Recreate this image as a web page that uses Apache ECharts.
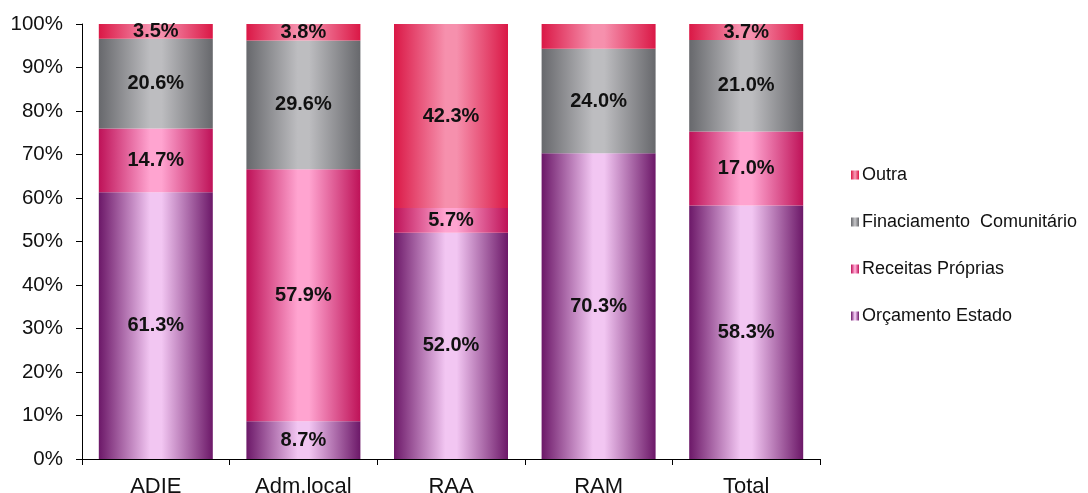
<!DOCTYPE html>
<html>
<head>
<meta charset="utf-8">
<script src="https://cdn.jsdelivr.net/npm/echarts@6/dist/echarts.min.js"></script>
<style>
  html, body { margin: 0; padding: 0; background: #ffffff; }
  #chart { width: 1088px; height: 493px; }
</style>
</head>
<body>
<div id="chart"></div>
<script>
// Funding sources by entity, share of total (%)
const categories = ['ADIE', 'Adm.local', 'RAA', 'RAM', 'Total'];
const orcamentoEstado = [61.3, 8.7, 52.0, 70.3, 58.3];
const receitasProprias = [14.7, 57.9, 5.7, 0, 17.0];
const financiamentoComunitario = [20.6, 29.6, 0, 24.0, 21.0];
const outra = [3.5, 3.8, 42.3, 5.7, 3.7];
// Segments whose value label is not printed
const hiddenLabels = { 'Outra': ['RAM'] };
const yTicks = [0, 10, 20, 30, 40, 50, 60, 70, 80, 90, 100];

const font = '"Liberation Sans", Arial, sans-serif';

function barGradient(edge, light) {
  return new echarts.graphic.LinearGradient(0, 0, 1, 0, [
    { offset: 0, color: edge },
    { offset: 0.45, color: light },
    { offset: 0.55, color: light },
    { offset: 1, color: edge }
  ]);
}

function makeSeries(name, values, edge, light) {
  const hidden = hiddenLabels[name] || [];
  return {
    name: name,
    type: 'bar',
    stack: 'share',
    barWidth: 114,
    data: values.map((v, i) => hidden.includes(categories[i])
      ? { value: v, label: { show: false } }
      : v),
    itemStyle: { color: barGradient(edge, light) },
    label: {
      show: true,
      position: 'inside',
      color: '#111111',
      fontFamily: font,
      fontSize: 20,
      fontWeight: 'bold',
      formatter: p => p.value > 0 ? p.value.toFixed(1) + '%' : ''
    },
    emphasis: { disabled: true }
  };
}

const chart = echarts.init(document.getElementById('chart'), null, { renderer: 'canvas' });
chart.setOption({
  animation: false,
  backgroundColor: '#ffffff',
  grid: { left: 82, right: 268, top: 24, bottom: 34, containLabel: false, outerBoundsMode: 'none' },
  legend: {
    orient: 'vertical',
    left: 846,
    top: 161,
    itemWidth: 8,
    itemHeight: 9,
    itemGap: 29,
    icon: 'rect',
    data: ['Outra', 'Finaciamento  Comunitário', 'Receitas Próprias', 'Orçamento Estado'],
    textStyle: { fontFamily: font, fontSize: 18, color: '#111111', padding: [0, 0, 0, -2] }
  },
  xAxis: {
    type: 'category',
    data: categories,
    axisLine: { lineStyle: { color: '#000000', width: 1 } },
    axisTick: { show: true, length: 6, lineStyle: { color: '#000000' } },
    axisLabel: { fontFamily: font, fontSize: 22, color: '#111111', margin: 17 }
  },
  yAxis: {
    type: 'value',
    min: yTicks[0],
    max: yTicks[yTicks.length - 1],
    interval: 10,
    axisLine: { show: true, lineStyle: { color: '#000000', width: 1 } },
    axisTick: { show: true, length: 6, lineStyle: { color: '#000000' } },
    splitLine: { show: false },
    axisLabel: { fontFamily: font, fontSize: 20.5, color: '#111111', margin: 19, formatter: v => v + '%' }
  },
  series: [
    makeSeries('Orçamento Estado', orcamentoEstado, '#6c1868', '#f2c6f2'),
    makeSeries('Receitas Próprias', receitasProprias, '#be1258', '#ffa4d0'),
    makeSeries('Finaciamento  Comunitário', financiamentoComunitario, '#67686c', '#bdbdc0'),
    makeSeries('Outra', outra, '#da1846', '#f690ad')
  ]
});
</script>
</body>
</html>
